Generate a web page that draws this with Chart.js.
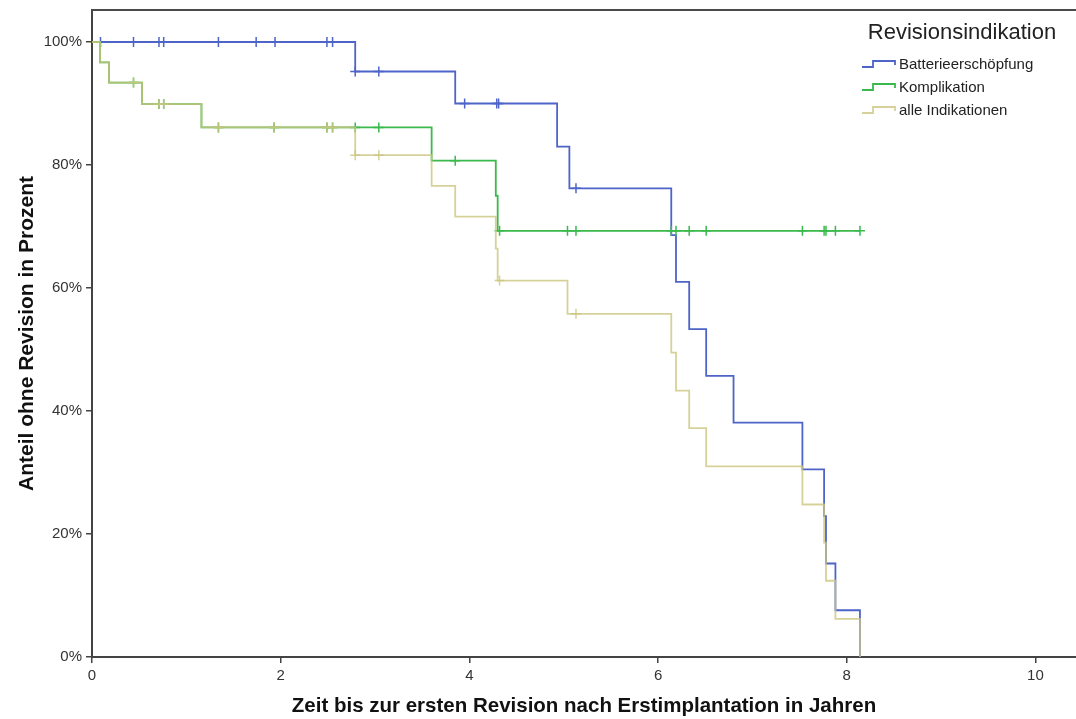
<!DOCTYPE html>
<html>
<head>
<meta charset="utf-8">
<script src="https://cdn.jsdelivr.net/npm/chart.js@4.4.1/dist/chart.umd.min.js"></script>
<style>
    html, body { margin: 0; padding: 0; background: #fff; }
    #wrap { width: 1076px; height: 719px; position: relative; }
</style>
</head>
<body>
<div id="wrap"><canvas id="kmChart"></canvas></div>
<script>
// Kaplan-Meier curves (time in years, survival in %)
const blueTimes = [0, 2.79, 3.85, 4.93, 5.06, 6.14, 6.19, 6.33, 6.51, 6.80, 7.53, 7.76, 7.78, 7.88, 8.14];
const blueSurv = [100, 95.2, 90.0, 83.0, 76.2, 68.6, 61.0, 53.3, 45.7, 38.1, 30.5, 22.9, 15.2, 7.6, 0];
const blueCensorT = [0.09, 0.44, 0.71, 0.76, 1.34, 1.74, 1.94, 2.49, 2.55, 2.79, 3.04, 3.95, 4.29, 4.31, 5.13];
const blueCensorS = [100, 100, 100, 100, 100, 100, 100, 100, 100, 95.2, 95.2, 90.0, 90.0, 90.0, 76.2];

const greenTimes = [0, 0.085, 0.18, 0.53, 1.16, 3.60, 4.28, 4.30, 8.14];
const greenSurv = [100, 96.7, 93.4, 89.9, 86.1, 80.7, 75.0, 69.3, 69.3];
const greenCensorT = [0.44, 0.71, 0.76, 1.34, 1.93, 2.49, 2.55, 2.79, 3.04, 3.85, 4.32, 5.04, 5.13, 6.14, 6.19, 6.33, 6.51, 7.53, 7.76, 7.78, 7.88, 8.14];
const greenCensorS = [93.4, 89.9, 89.9, 86.1, 86.1, 86.1, 86.1, 86.1, 86.1, 80.7, 69.3, 69.3, 69.3, 69.3, 69.3, 69.3, 69.3, 69.3, 69.3, 69.3, 69.3, 69.3];

const yellowTimes = [0, 0.085, 0.18, 0.53, 1.16, 2.79, 3.60, 3.85, 4.28, 4.30, 5.04, 6.14, 6.19, 6.33, 6.51, 7.53, 7.76, 7.78, 7.88, 8.14];
const yellowSurv = [100, 96.7, 93.4, 89.9, 86.1, 81.6, 76.6, 71.6, 66.4, 61.2, 55.8, 49.5, 43.3, 37.2, 31.0, 24.8, 18.6, 12.4, 6.2, 0];
const yellowCensorT = [0.44, 0.71, 0.76, 1.34, 1.93, 2.49, 2.55, 2.79, 3.04, 4.32, 5.13];
const yellowCensorS = [93.4, 89.9, 89.9, 86.1, 86.1, 86.1, 86.1, 81.6, 81.6, 61.2, 55.8];

const seriesNames = ["Batterieerschöpfung", "Komplikation", "alle Indikationen"];
const legendTitle = "Revisionsindikation";
const xTicks = [0, 2, 4, 6, 8, 10];
const yTicks = [0, 20, 40, 60, 80, 100];

const blue = "rgb(78, 100, 200)";
const green = "rgb(58, 186, 76)";
const yellow = "rgba(204, 198, 128, 0.8)";
const colors = [blue, green, yellow];

function toPoints(xs, ys) {
    return xs.map((x, i) => ({ x: x, y: ys[i] }));
}

function curve(xs, ys, color, order) {
    return {
        data: toPoints(xs, ys),
        borderColor: color,
        borderWidth: 1.8,
        stepped: true,
        pointRadius: 0,
        fill: false,
        order: order
    };
}

function censors(xs, ys, color, order) {
    return {
        data: toPoints(xs, ys),
        showLine: false,
        pointStyle: 'cross',
        pointRadius: 5,
        pointBorderWidth: 1.5,
        pointBorderColor: color,
        pointBackgroundColor: color,
        order: order
    };
}

// top frame line + step-glyph legend
const framePlugin = {
    id: 'frame',
    afterDraw(chart) {
        const c = chart.ctx;
        const area = chart.chartArea;
        c.save();
        c.strokeStyle = "#4a4a4a";
        c.lineWidth = 2;
        c.beginPath();
        c.moveTo(area.left, area.top);
        c.lineTo(chart.width, area.top);
        c.stroke();

        c.fillStyle = "#222";
        c.font = "22px 'Liberation Sans', Arial, sans-serif";
        c.textAlign = "center";
        c.textBaseline = "middle";
        c.fillText(legendTitle, 962, 33);

        c.font = "15px 'Liberation Sans', Arial, sans-serif";
        c.textAlign = "left";
        const rows = [65, 88, 111];
        for (let i = 0; i < seriesNames.length; i++) {
            const y = rows[i];
            c.strokeStyle = colors[i];
            c.lineWidth = 1.8;
            c.beginPath();
            c.moveTo(862, y + 2);
            c.lineTo(873, y + 2);
            c.lineTo(873, y - 4);
            c.lineTo(895, y - 4);
            c.lineTo(895, y);
            c.stroke();
            c.fillStyle = "#222";
            c.fillText(seriesNames[i], 899, y);
        }
        c.restore();
    }
};

const ctx = document.getElementById('kmChart').getContext('2d');

new Chart(ctx, {
    type: 'line',
    data: {
        datasets: [
            curve(blueTimes, blueSurv, blue, 6),
            censors(blueCensorT, blueCensorS, blue, 5),
            curve(greenTimes, greenSurv, green, 4),
            censors(greenCensorT, greenCensorS, green, 3),
            curve(yellowTimes, yellowSurv, yellow, 2),
            censors(yellowCensorT, yellowCensorS, yellow, 1)
        ]
    },
    options: {
        responsive: true,
        maintainAspectRatio: false,
        animation: false,
        devicePixelRatio: 1,
        layout: {
            autoPadding: false,
            padding: { top: 10, right: 0, bottom: 0, left: 0 }
        },
        plugins: {
            legend: { display: false },
            tooltip: { enabled: false }
        },
        scales: {
            x: {
                type: 'linear',
                min: 0,
                max: 10.43,
                afterBuildTicks: axis => { axis.ticks = xTicks.map(v => ({ value: v })); },
                afterFit: axis => { axis.height = 62; axis.paddingRight = 0; axis.paddingLeft = 0; },
                grid: { drawOnChartArea: false, drawTicks: true, tickLength: 6, color: "#444", lineWidth: 1.5 },
                border: { display: true, color: "#444", width: 2 },
                ticks: {
                    color: "#333",
                    padding: 4,
                    font: { family: "'Liberation Sans', Arial, sans-serif", size: 15 }
                },
                title: {
                    display: true,
                    text: "Zeit bis zur ersten Revision nach Erstimplantation in Jahren",
                    color: "#111",
                    padding: { top: 0, bottom: 0 },
                    font: { family: "'Liberation Sans', Arial, sans-serif", size: 20.5, weight: 'bold' }
                }
            },
            y: {
                min: 0,
                max: 105.2,
                afterBuildTicks: axis => { axis.ticks = yTicks.map(v => ({ value: v })); },
                afterFit: axis => { axis.width = 92; axis.paddingTop = 0; axis.paddingBottom = 0; },
                grid: { drawOnChartArea: false, drawTicks: true, tickLength: 6, color: "#444", lineWidth: 1.5 },
                border: { display: true, color: "#444", width: 2 },
                ticks: {
                    color: "#333",
                    padding: 4,
                    font: { family: "'Liberation Sans', Arial, sans-serif", size: 15 },
                    callback: v => v + "%"
                },
                title: {
                    display: true,
                    text: "Anteil ohne Revision in Prozent",
                    color: "#111",
                    padding: { top: 15, bottom: 15 },
                    font: { family: "'Liberation Sans', Arial, sans-serif", size: 21, weight: 'bold' }
                }
            }
        }
    },
    plugins: [framePlugin]
});
</script>
</body>
</html>
